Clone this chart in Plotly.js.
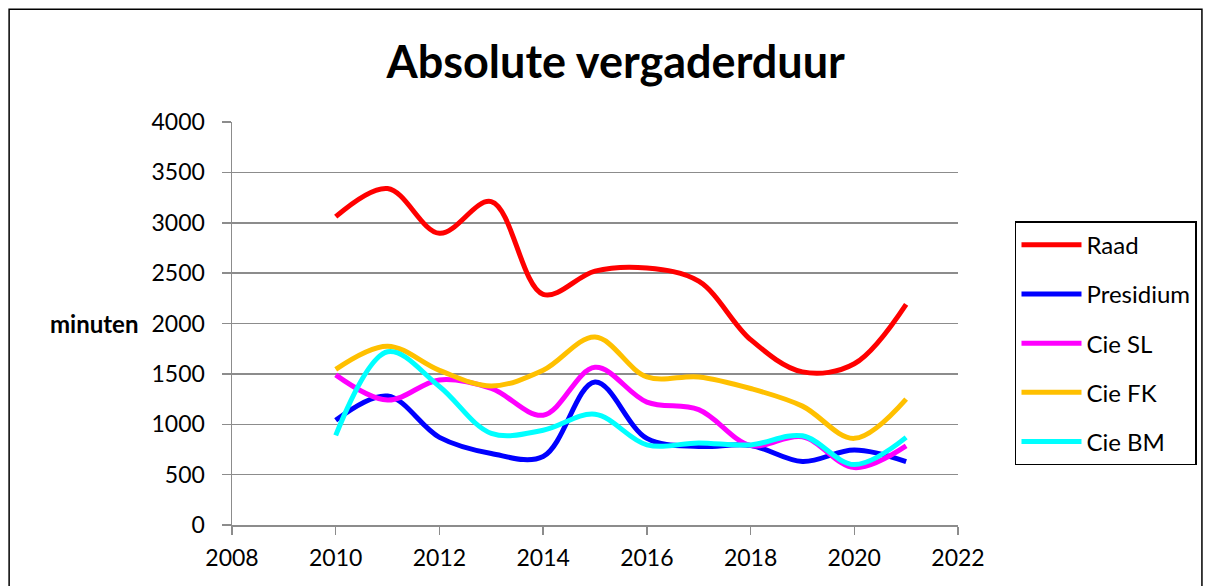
<!DOCTYPE html>
<html>
<head>
<meta charset="utf-8">
<script src="https://cdn.plot.ly/plotly-3.0.1.min.js"></script>
<style>
  html, body { margin: 0; padding: 0; background: #fff; }
  #chart { width: 1212px; height: 586px; }
</style>
</head>
<body>
<div id="chart"></div>
<script>
const years = [2010, 2011, 2012, 2013, 2014, 2015, 2016, 2017, 2018, 2019, 2020, 2021];
const raad      = [3060, 3340, 2895, 3210, 2290, 2520, 2550, 2420, 1840, 1520, 1600, 2190];
const presidium = [1040, 1280,  870,  710,  680, 1420,  860,  780,  790,  630,  745,  630];
const cieSL     = [1490, 1240, 1440, 1355, 1090, 1565, 1220, 1145,  790,  875,  570,  785];
const cieFK     = [1545, 1775, 1535, 1380, 1535, 1865, 1470, 1470, 1355, 1180,  860, 1250];
const cieBM     = [ 890, 1720, 1375,  910,  940, 1100,  795,  815,  795,  885,  600,  870];
const seriesNames = ["Raad", "Presidium", "Cie SL", "Cie FK", "Cie BM"];
const seriesColors = ["#FF0000", "#0000FF", "#FF00FF", "#FFC000", "#00FFFF"];
const yTicks = [0, 500, 1000, 1500, 2000, 2500, 3000, 3500, 4000];
const xTicks = [2008, 2010, 2012, 2014, 2016, 2018, 2020, 2022];

const FONT = "Lato, 'Open Sans', sans-serif";
const allSeries = [raad, presidium, cieSL, cieFK, cieBM];

const traces = allSeries.map((vals, i) => ({
  x: years,
  y: vals,
  type: "scatter",
  mode: "lines",
  name: seriesNames[i],
  legendgroup: "g" + i,
  line: { color: seriesColors[i], width: 5, shape: "spline", smoothing: 1 }
}));

const layout = {
  width: 1212,
  height: 586,
  paper_bgcolor: "#ffffff",
  plot_bgcolor: "#ffffff",
  margin: { l: 232, r: 254, t: 122, b: 61 },
  font: { family: FONT, size: 23, color: "#000000" },
  title: {
    text: "<b>Absolute vergaderduur</b>",
    font: { family: FONT, size: 45, color: "#000000" },
    x: 0.508, xanchor: "center",
    y: 0.893, yanchor: "middle"
  },
  xaxis: {
    range: [2008, 2022],
    tickvals: xTicks,
    ticktext: xTicks.map(String),
    showgrid: false,
    zeroline: false,
    showline: true,
    linecolor: "#8c8c8c",
    linewidth: 1.5,
    ticks: "outside",
    ticklen: 8,
    tickcolor: "#8c8c8c",
    tickwidth: 1.5,
    ticklabelstandoff: 4,
    tickfont: { family: FONT, size: 23, color: "#000000" },
    fixedrange: true
  },
  yaxis: {
    range: [0, 4000],
    tickvals: yTicks,
    ticktext: yTicks.map(String),
    showgrid: true,
    gridcolor: "#8c8c8c",
    gridwidth: 1.5,
    zeroline: false,
    showline: true,
    linecolor: "#8c8c8c",
    linewidth: 1.5,
    ticks: "outside",
    ticklen: 9,
    tickcolor: "#8c8c8c",
    tickwidth: 1.5,
    ticklabelstandoff: 12,
    tickfont: { family: FONT, size: 23, color: "#000000" },
    fixedrange: true
  },
  legend: {
    x: 1.0785, xanchor: "left",
    y: 0.754, yanchor: "top",
    bordercolor: "#000000",
    borderwidth: 1.5,
    bgcolor: "#ffffff",
    font: { family: FONT, size: 24, color: "#000000" },
    traceorder: "grouped",
    tracegroupgap: 15,
    itemwidth: 60
  },
  annotations: [{
    text: "<b>minuten</b>",
    xref: "paper", yref: "paper",
    x: -0.1267, y: 0.5, xanchor: "right", yanchor: "middle",
    showarrow: false,
    font: { family: FONT, size: 24, color: "#000000" }
  }],
  shapes: [{
    type: "rect", xref: "paper", yref: "paper",
    x0: -0.307, x1: 1.336, y0: -0.2, y1: 1.280,
    line: { color: "#000000", width: 1.5 },
    fillcolor: "rgba(0,0,0,0)",
    layer: "below"
  }],
  showlegend: true
};

Plotly.newPlot("chart", traces, layout, { displayModeBar: false, staticPlot: true });
</script>
</body>
</html>
